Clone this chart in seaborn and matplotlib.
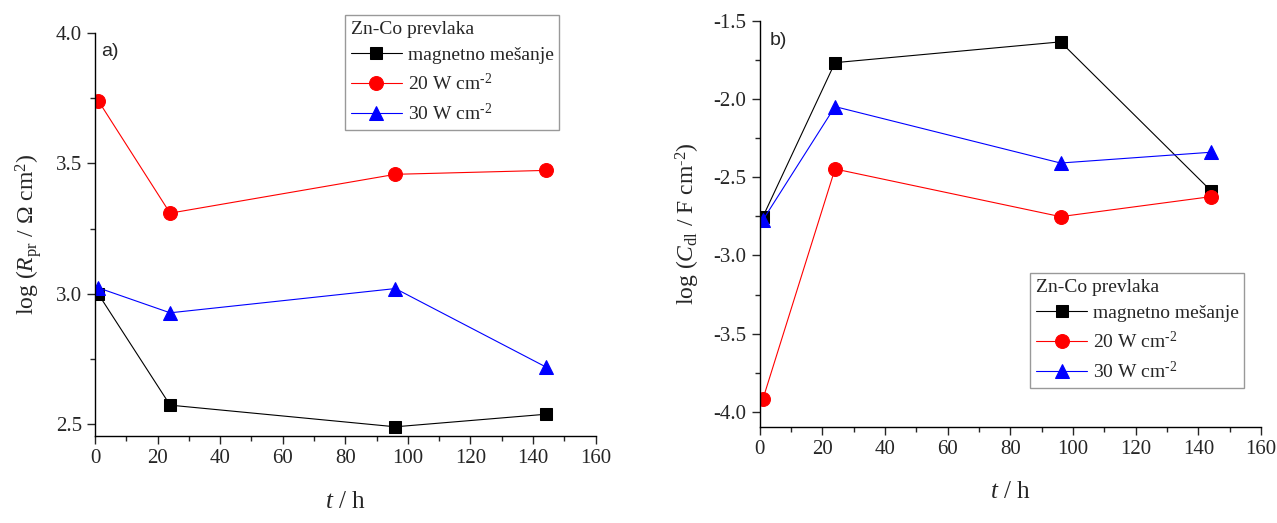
import matplotlib
matplotlib.use('Agg')
import matplotlib.pyplot as plt
import seaborn as sns
from matplotlib.ticker import MultipleLocator, AutoMinorLocator, FormatStrFormatter

# time points (h)
t = [1, 24, 96, 144]

# a) log(Rpr / Ohm cm2)
rpr_magnetic = [3.00, 2.573, 2.49, 2.538]
rpr_20w = [3.741, 3.309, 3.458, 3.473]
rpr_30w = [3.023, 2.927, 3.02, 2.72]

# b) log(Cdl / F cm-2)
cdl_magnetic = [-2.752, -1.767, -1.634, -2.586]
cdl_20w = [-3.918, -2.447, -2.752, -2.624]
cdl_30w = [-2.773, -2.048, -2.409, -2.34]

labels = ['magnetno mešanje', r'20 W cm$^{\text{-2}}$', r'30 W cm$^{\text{-2}}$']
colors = ['black', 'red', 'blue']
markers = ['s', 'o', '^']
msizes = [9, 10, 10.5]

sns.set_style('ticks')
plt.rcParams['font.family'] = ['Liberation Serif', 'DejaVu Serif']
plt.rcParams['mathtext.fontset'] = 'custom'
plt.rcParams['mathtext.rm'] = 'Liberation Serif'
plt.rcParams['mathtext.it'] = 'Liberation Serif:italic'
plt.rcParams['mathtext.bf'] = 'Liberation Serif:bold'
plt.rcParams['axes.unicode_minus'] = False

fig = plt.figure(figsize=(12.77, 5.23), dpi=100)
ax1 = fig.add_axes([0.0744, 0.166, 0.392, 0.771])
ax2 = fig.add_axes([0.595, 0.184, 0.3925, 0.776])


def draw(ax, series, legend_anchor, tag, tag_pos):
    for vals, lab, c, m, ms in zip(series, labels, colors, markers, msizes):
        sns.lineplot(x=t, y=vals, ax=ax, color=c, marker=m, markersize=ms,
                     markeredgecolor=c, linewidth=0.8, label=lab)
    ax.set_xlim(0, 160)
    ax.xaxis.set_major_locator(MultipleLocator(20))
    ax.xaxis.set_minor_locator(AutoMinorLocator(2))
    ax.yaxis.set_major_locator(MultipleLocator(0.5))
    ax.yaxis.set_minor_locator(AutoMinorLocator(2))
    ax.yaxis.set_major_formatter(FormatStrFormatter('%.1f'))
    ax.tick_params(which='major', direction='out', length=6, width=1, labelsize=15)
    ax.tick_params(which='minor', direction='out', length=3.5, width=1)
    sns.despine(ax=ax)
    for s in ['left', 'bottom']:
        ax.spines[s].set_linewidth(1)
        ax.spines[s].set_color('black')
    ax.set_xlabel(r'$t$ / h', fontsize=18, labelpad=16)
    ax.text(tag_pos[0], tag_pos[1], tag, transform=ax.transAxes, ha='left', va='top',
            fontsize=14, family='Liberation Sans')
    leg = ax.legend(title='Zn-Co prevlaka', loc='upper left', bbox_to_anchor=legend_anchor,
                    borderaxespad=0, fontsize=14, title_fontsize=14, frameon=True,
                    fancybox=False, edgecolor='gray', handlelength=2.6,
                    handletextpad=0.3, labelspacing=0.45, borderpad=0.3)
    leg._legend_box.align = 'left'
    leg.get_frame().set_linewidth(1)


draw(ax1, [rpr_magnetic, rpr_20w, rpr_30w], (0.5, 1.045), 'a)', (0.012, 0.975))
ax1.set_ylim(2.454, 4.0)
ax1.set_ylabel('log ($\\mathit{R}_{\\mathrm{pr}}$ / Ω cm$^{2}$)', fontsize=17, labelpad=8)

draw(ax2, [cdl_magnetic, cdl_20w, cdl_30w], (0.54, 0.379), 'b)', (0.02, 0.973))
ax2.set_ylim(-4.096, -1.5)
ax2.set_ylabel(r'log ($\mathit{C}_{\mathrm{dl}}$ / F cm$^{\text{-2}}$)', fontsize=17, labelpad=8)

fig.savefig('out.png', dpi=100, facecolor='white')
